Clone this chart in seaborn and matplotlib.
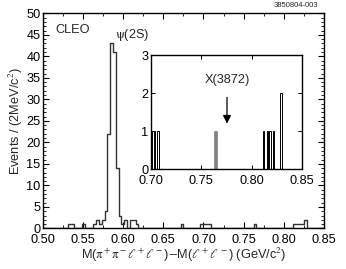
import numpy as np
import pandas as pd
import matplotlib
matplotlib.use("Agg")
import matplotlib.pyplot as plt
import seaborn as sns
from matplotlib.ticker import MultipleLocator

# main histogram: bin index (width 0.0035 from 0.50) and counts
bin_width = 0.0035
main_bins = [9, 10, 14, 18, 19, 20, 21, 22, 23, 24, 25, 26, 27, 28, 29, 31, 32, 33,
             49, 56, 57, 58, 59, 75, 89, 90, 91, 92, 93]
main_counts = [1, 1, 1, 1, 2, 1, 2, 4, 22, 43, 41, 14, 3, 1, 2, 2, 2, 1,
               1, 1, 1, 1, 1, 1, 1, 1, 1, 1, 2]

# inset (zoom 0.70-0.85)
inset_x = [0.7006, 0.7040, 0.7073, 0.8119, 0.8153, 0.8182, 0.8213, 0.8290]
inset_n = [1, 1, 1, 1, 1, 1, 1, 2]
inset_sel_x = [0.7646]
inset_sel_n = [1]

x3872 = 0.7755

sns.set_theme(style="ticks")
plt.rcParams["font.family"] = ["Liberation Sans", "DejaVu Sans"]
plt.rcParams["mathtext.fontset"] = "stix"
plt.rcParams.update({
    "xtick.direction": "in", "ytick.direction": "in",
    "xtick.top": True, "ytick.right": True,
    "axes.linewidth": 1.0, "axes.edgecolor": "black",
    "xtick.color": "black", "ytick.color": "black",
    "font.size": 9.2,
})

counts = np.zeros(100)
counts[main_bins] = main_counts
hist_df = pd.DataFrame({"dm": 0.5 + bin_width * (np.arange(100) + 0.5), "n": counts})

fig = plt.figure(figsize=(3.46, 2.69), dpi=100)
ax = fig.add_axes([0.1234, 0.1506, 0.813, 0.80])
sns.histplot(data=hist_df, x="dm", weights="n", binwidth=bin_width,
             binrange=(0.5, 0.85), element="step", fill=False,
             color="#333333", linewidth=1.0, ax=ax)
ax.set_xlim(0.50, 0.85)
ax.set_ylim(0, 50)
ax.xaxis.set_minor_locator(MultipleLocator(0.025))
ax.yaxis.set_major_locator(MultipleLocator(5))
ax.yaxis.set_minor_locator(MultipleLocator(1))
ax.tick_params(which="major", length=4, width=0.8, labelsize=9.2, pad=1.5)
ax.tick_params(axis="x", which="major", pad=4)
ax.tick_params(which="minor", length=2.5, width=0.6)
ax.set_xticks([0.50, 0.55, 0.60, 0.65, 0.70, 0.75, 0.80, 0.85])
ax.set_xticklabels(["0.50", "0.55", "0.60", "0.65", "0.70", "0.75", "0.80", "0.85"])
ax.set_ylabel("Events / (2MeV/c$^2$)", fontsize=9.2, labelpad=1)
ax.set_xlabel(r"M($\mathrm{\pi}^+\mathrm{\pi}^-\ell^+\ell^-$)$-$M($\ell^+\ell^-$) (GeV/c$^2$)",
              fontsize=9.2, labelpad=0)
ax.text(0.044, 0.921, "CLEO", transform=ax.transAxes, fontsize=9.2,
        ha="left", va="center")
ax.text(0.590, 45, r"$\mathrm{\psi}$(2S)", fontsize=9.2, ha="left", va="center")
fig.text(0.919, 0.978, "3850804-003", fontsize=5.5, ha="right", va="center")

ins = fig.add_axes([0.4355, 0.3706, 0.4382, 0.4249])
ins.bar(inset_x, inset_n, width=0.0014, color="white", edgecolor="black",
        linewidth=0.7)
ins.bar(inset_sel_x, inset_sel_n, width=0.0030, color="#808080",
        edgecolor="#808080", linewidth=0.5)
ins.set_xlim(0.70, 0.85)
ins.set_ylim(0, 3)
ins.yaxis.set_major_locator(MultipleLocator(1))
ins.tick_params(which="major", length=3, width=0.7, labelsize=9.2, pad=1.5)
ins.tick_params(axis="x", which="major", pad=4)
ins.set_xticks([0.70, 0.75, 0.80, 0.85])
ins.set_xticklabels(["0.70", "0.75", "0.80", "0.85"])
ins.annotate("X(3872)", xy=(x3872, 1.2), xytext=(x3872, 2.35),
             ha="center", va="center", fontsize=9.2,
             arrowprops=dict(arrowstyle="-|>", color="black", lw=0.9,
                             mutation_scale=12, shrinkA=6, shrinkB=0))

fig.savefig("out.png", dpi=100)
